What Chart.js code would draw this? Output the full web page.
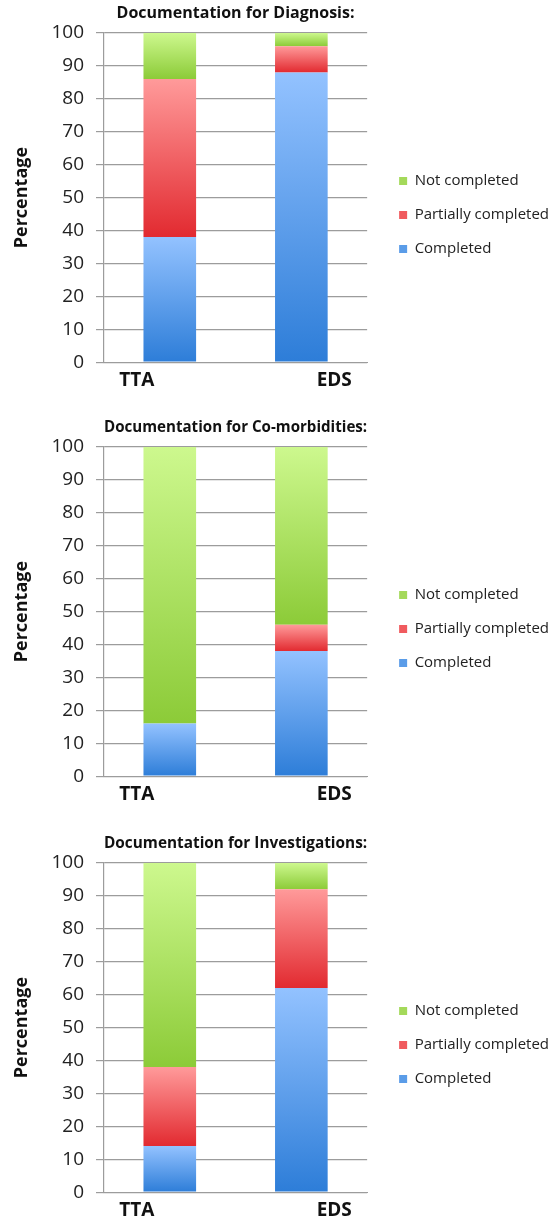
<!DOCTYPE html>
<html>
<head>
<meta charset="utf-8">
<script src="https://cdn.jsdelivr.net/npm/chart.js@4.4.1/dist/chart.umd.min.js"></script>
<style>
  body { margin: 0; background: #fff; }
  .panel { position: absolute; left: 0; width: 559px; height: 399px; }
</style>
</head>
<body>
<div class="panel" style="top:0"><canvas id="chart-diagnosis" width="559" height="399"></canvas></div>
<div class="panel" style="top:414px"><canvas id="chart-comorbid" width="559" height="399"></canvas></div>
<div class="panel" style="top:830px"><canvas id="chart-invest" width="559" height="399"></canvas></div>
<script>
const categories = ['TTA', 'EDS'];
const seriesNames = ['Completed', 'Partially completed', 'Not completed'];
const chartTitles = [
    'Documentation for Diagnosis:',
    'Documentation for Co-morbidities:',
    'Documentation for Investigations:'
];
// one row per chart, one value per category
const completedValues = [[38, 88], [16, 38], [14, 62]];
const partialValues = [[48, 8], [0, 8], [24, 30]];
const notCompletedValues = [[14, 4], [84, 54], [62, 8]];
const yTickStep = 10;
const yMax = 100;

const canvasIds = ['chart-diagnosis', 'chart-comorbid', 'chart-invest'];
// top colour, bottom colour, legend colour
const seriesColors = [
    ['#93c2ff', '#2d7dd8', '#5a9ce8'],
    ['#ff9a9a', '#e22a30', '#f05a5e'],
    ['#cdf88e', '#8ccb38', '#a4d95a']
];
const gridGray = '#9c9c9c';

function segmentGradient(colors) {
    return function(ctx) {
        const chart = ctx.chart;
        if (ctx.type !== 'data' || !chart.chartArea) return colors[2];
        const y = chart.scales.y;
        let base = 0;
        for (let d = 0; d < ctx.datasetIndex; d++) {
            base += chart.data.datasets[d].data[ctx.dataIndex];
        }
        const value = chart.data.datasets[ctx.datasetIndex].data[ctx.dataIndex];
        const top = y.getPixelForValue(base + value);
        const bottom = y.getPixelForValue(base);
        if (top === bottom) return colors[1];
        const g = chart.ctx.createLinearGradient(0, top, 0, bottom);
        g.addColorStop(0, colors[0]);
        g.addColorStop(1, colors[1]);
        return g;
    };
}

function buildChart(index) {
    const series = [completedValues[index], partialValues[index], notCompletedValues[index]];
    const ctx = document.getElementById(canvasIds[index]).getContext('2d');
    return new Chart(ctx, {
        type: 'bar',
        data: {
            labels: categories,
            datasets: series.map((values, i) => ({
                label: seriesNames[i],
                data: values,
                backgroundColor: segmentGradient(seriesColors[i]),
                borderWidth: 0,
                barPercentage: 0.4,
                categoryPercentage: 1.0
            }))
        },
        options: {
            responsive: false,
            animation: false,
            layout: { padding: 0 },
            scales: {
                x: { type: 'category', stacked: true, display: false },
                xl: {
                    // category names sit near the ends of the axis
                    type: 'linear',
                    axis: 'x',
                    position: 'bottom',
                    offset: false,
                    min: 0,
                    max: 8,
                    afterBuildTicks: s => { s.ticks = [{ value: 1 }, { value: 7 }]; },
                    grid: { display: false, drawTicks: false, offset: false },
                    border: { display: true, color: gridGray, width: 1 },
                    ticks: {
                        padding: 7,
                        autoSkip: false,
                        color: '#111',
                        font: { family: 'Open Sans', size: 19, weight: 'bold' },
                        callback: v => (v === 1 ? categories[0] : categories[1])
                    }
                },
                y: {
                    stacked: true,
                    min: 0,
                    max: yMax,
                    afterFit: s => { s.width = 104; },
                    grid: { color: gridGray, lineWidth: 1.2, tickLength: 8 },
                    border: { display: true, color: gridGray, width: 1.2 },
                    ticks: { stepSize: yTickStep, padding: 12, color: '#222', font: { family: 'Open Sans', size: 19 } },
                    title: {
                        display: true, text: 'Percentage', color: '#111',
                        font: { family: 'Open Sans', size: 18, weight: 'bold' },
                        padding: { top: 11, bottom: 0 }
                    }
                },
                pad: {
                    type: 'linear', axis: 'y', position: 'right',
                    grid: { display: false, drawTicks: false },
                    border: { display: false },
                    ticks: { display: false },
                    afterFit: s => { s.width = 13; }
                }
            },
            plugins: {
                title: {
                    display: true, text: chartTitles[index], fullSize: false, color: '#111',
                    font: { family: 'Open Sans', size: 16, weight: 'bold' },
                    padding: { top: 4, bottom: 9.8 }
                },
                legend: {
                    position: 'right',
                    reverse: true,
                    maxWidth: 180,
                    // empty title only pushes the items down
                    title: { display: true, text: '', font: { size: 10, lineHeight: 1 }, padding: { top: 21, bottom: 0 } },
                    labels: {
                        boxWidth: 8, boxHeight: 8, padding: 19, color: '#222',
                        font: { family: 'Open Sans', size: 15 },
                        generateLabels: chart => Chart.defaults.plugins.legend.labels.generateLabels(chart)
                            .map(item => Object.assign(item, { fillStyle: seriesColors[item.datasetIndex][2], lineWidth: 0 }))
                    }
                },
                tooltip: { enabled: false }
            }
        }
    });
}

document.addEventListener('DOMContentLoaded', function() {
    canvasIds.forEach((id, i) => buildChart(i));
});
</script>
</body>
</html>
